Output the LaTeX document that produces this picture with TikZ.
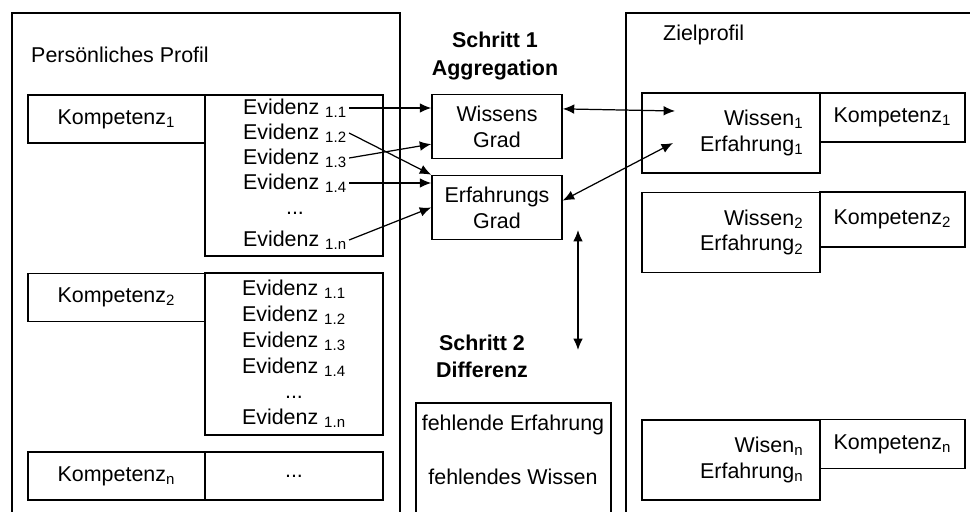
\documentclass[tikz,border=0pt]{standalone}
\usepackage{fontspec}
\setmainfont{Liberation Sans}
\usetikzlibrary{arrows.meta, positioning, calc}

\begin{document}
\begin{tikzpicture}[
    x=0.02cm, y=-0.02cm,
    font=\fontsize{12.2}{14.7}\selectfont,
    panel/.style={line width=0.9pt},
    box/.style={draw, line width=0.9pt, inner sep=0pt, align=center},
    kbox/.style={box, minimum width=3.54cm, minimum height=0.96cm},
    zbox/.style={box, minimum width=3.56cm, minimum height=1.6cm, text width=2.9cm, align=right},
    kzbox/.style={box, minimum width=2.9cm, minimum height=0.98cm},
    gradbox/.style={box, minimum width=2.6cm, minimum height=1.28cm},
    evline/.style={inner sep=1pt},
    steplabel/.style={font=\fontsize{12.2}{15.5}\selectfont\bfseries, align=center},
    arrow/.style={-{Latex[length=6.5pt,width=5.5pt]}, line width=0.7pt},
    biarrow/.style={{Latex[length=6.5pt,width=5.5pt]}-{Latex[length=6.5pt,width=5.5pt]}, line width=0.7pt}
]
    \useasboundingbox (0,0) rectangle (970,511);
    \clip (0,0) rectangle (970,511);

    % Persoenliches Profil
    \draw[panel] (12,530) -- (12,13) -- (400,13) -- (400,530);
    \node[anchor=west] (profil) at (25,55) {Persönliches Profil};

    \node[kbox] (kompA) at (116.5,119) {Kompetenz\textsubscript{1}};
    \node[box, minimum width=3.56cm, minimum height=3.22cm] (evA) at (294,175.5) {};
    \node[evline] (ev11) at (295,108) {Evidenz \textsubscript{1.1}};
    \node[evline] (ev12) at (295,133) {Evidenz \textsubscript{1.2}};
    \node[evline] (ev13) at (295,158) {Evidenz \textsubscript{1.3}};
    \node[evline] (ev14) at (295,183) {Evidenz \textsubscript{1.4}};
    \node[evline] (evdots) at (295,213) {...};
    \node[evline] (ev1n) at (295,240) {Evidenz \textsubscript{1.n}};

    \node[kbox] (kompB) at (116.5,297.5) {Kompetenz\textsubscript{2}};
    \node[box, minimum width=3.56cm, minimum height=3.24cm] (evB) at (294,354) {Evidenz \textsubscript{1.1}\\Evidenz \textsubscript{1.2}\\Evidenz \textsubscript{1.3}\\Evidenz \textsubscript{1.4}\\...\\Evidenz \textsubscript{1.n}};

    \node[kbox] (kompN) at (116.5,476) {Kompetenz\textsubscript{n}};
    \node[box, minimum width=3.56cm, minimum height=0.96cm] (evN) at (294,476) {...};

    % Schritt 1
    \node[steplabel] (schritt1) at (495,56) {Schritt 1\\Aggregation};
    \node[gradbox] (wissens) at (497,126.5) {Wissens\\Grad};
    \node[gradbox] (erfahrung) at (497,207.5) {Erfahrungs\\Grad};

    % Schritt 2
    \node[steplabel] (schritt2) at (482,356) {Schritt 2\\Differenz};
    \node[box, minimum width=3.9cm, minimum height=2.74cm] (diff) at (513.5,471.5) {};
    \node (fehlE) at (513,425) {fehlende Erfahrung};
    \node (fehlW) at (513,477) {fehlendes Wissen};

    % Zielprofil
    \draw[panel] (626,530) -- (626,13) -- (990,13);
    \node[anchor=west] (ziel) at (657,35) {Zielprofil};

    \node[zbox] (zielA) at (731,133) {Wissen\textsubscript{1}\\Erfahrung\textsubscript{1}};
    \node[kzbox] (zielKA) at (892.5,117.5) {Kompetenz\textsubscript{1}};
    \node[zbox] (zielB) at (731,232.5) {Wissen\textsubscript{2}\\Erfahrung\textsubscript{2}};
    \node[kzbox, minimum height=1.1cm] (zielKB) at (892.5,219.5) {Kompetenz\textsubscript{2}};
    \node[zbox] (zielC) at (731,460) {Wisen\textsubscript{n}\\Erfahrung\textsubscript{n}};
    \node[kzbox] (zielKC) at (892.5,444) {Kompetenz\textsubscript{n}};

    \coordinate (zielW) at (675,111);
    \coordinate (zielE) at (673,143);
    \coordinate (diffTop) at (578,230);
    \coordinate (diffBot) at (578,350);

    % Aggregation
    \draw[arrow] (ev11.east) -- (ev11.east -| wissens.west);
    \draw[arrow] (ev12.east) -- (erfahrung.north west);
    \draw[arrow] (ev13.east) -- (wissens.195);
    \draw[arrow] (ev14.east) -- (ev14.east -| erfahrung.west);
    \draw[arrow] (ev1n.east) -- (erfahrung.west);

    % Vergleich
    \draw[biarrow] (wissens.15) -- (zielW);
    \draw[biarrow] (erfahrung.6) -- (zielE);
    \draw[biarrow] (diffTop) -- (diffBot);
\end{tikzpicture}
\end{document}
